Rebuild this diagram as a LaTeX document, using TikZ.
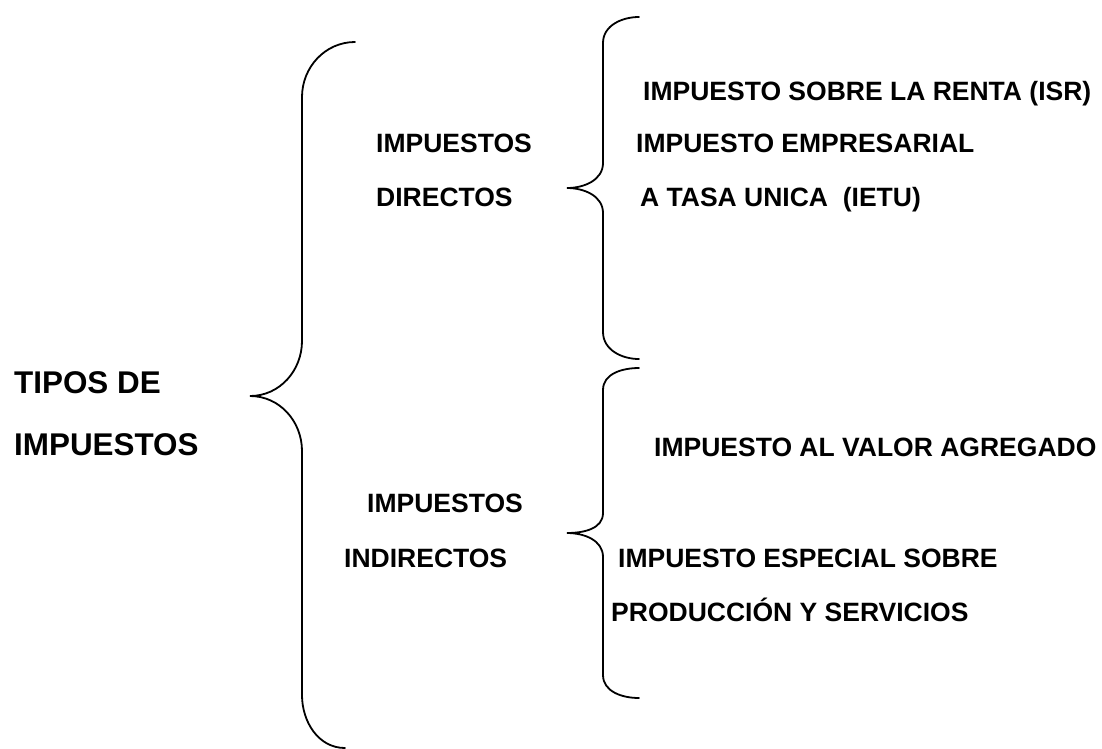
\documentclass[tikz,border=0pt]{standalone}
\usepackage{fontspec}
\setmainfont{Liberation Sans}
\usepackage{tikz}

\begin{document}
\begin{tikzpicture}
[
x=1pt, y=1pt,
llave/.style={draw, line width=1.8pt, line cap=round},
text-a/.style={inner sep=0pt, anchor=base west, font=\fontsize{31.4}{36}\selectfont\bfseries},
text-b/.style={inner sep=0pt, anchor=base west, font=\fontsize{26.5}{30}\selectfont\bfseries}
]
\useasboundingbox (0,0) rectangle (1102,-748);
% left side
\node (tipos-1)  [text-a] at (14,-393)   {TIPOS DE};
\node (tipos-2)  [text-a] at (14,-455)   {IMPUESTOS};
% middle
\node (dir-1)    [text-b] at (376,-152.5) {IMPUESTOS};
\node (dir-2)    [text-b] at (376,-206.5) {DIRECTOS};
\node (ind-1)    [text-b] at (367,-512.5) {IMPUESTOS};
\node (ind-2)    [text-b] at (344,-567.5) {INDIRECTOS};
% right side
\node (isr)      [text-b] at (643,-100.5) {IMPUESTO SOBRE LA RENTA (ISR)};
\node (ietu-1)   [text-b] at (636,-152.5) {IMPUESTO EMPRESARIAL};
\node (ietu-2)   [text-b] at (640,-206.5) {A TASA UNICA\ \ (IETU)};
\node (iva)      [text-b] at (654,-456.5) {IMPUESTO AL VALOR AGREGADO};
\node (ieps-1)   [text-b] at (618,-567.5) {IMPUESTO ESPECIAL SOBRE};
\node (ieps-2)   [text-b] at (611,-621.5) {PRODUCCI\'ON Y SERVICIOS};
% braces
\coordinate (llave-a-top) at (355,-42);
\coordinate (llave-a-tip) at (250,-396);
\coordinate (llave-a-bot) at (345,-748);
\coordinate (llave-b-top) at (639,-17);
\coordinate (llave-b-tip) at (567,-188);
\coordinate (llave-b-bot) at (639,-359);
\coordinate (llave-c-top) at (639,-368);
\coordinate (llave-c-tip) at (567,-533);
\coordinate (llave-c-bot) at (639,-698);
\draw [llave] (llave-a-top) to[out=180,in=90] (302,-97) -- (302,-341) to[out=-90,in=0] (llave-a-tip)
  to[out=0,in=90] (302,-451) -- (302,-695) to[out=-90,in=180] (llave-a-bot);
\draw [llave] (llave-b-top) to[out=180,in=90] (603,-43) -- (603,-163) to[out=-90,in=0] (llave-b-tip)
  to[out=0,in=90] (603,-213) -- (603,-332) to[out=-90,in=180] (llave-b-bot);
\draw [llave] (llave-c-top) to[out=180,in=90] (603,-390) -- (603,-513) to[out=-90,in=0] (llave-c-tip)
  to[out=0,in=90] (603,-557) -- (603,-675) to[out=-90,in=180] (llave-c-bot);
\end{tikzpicture}
\end{document}
